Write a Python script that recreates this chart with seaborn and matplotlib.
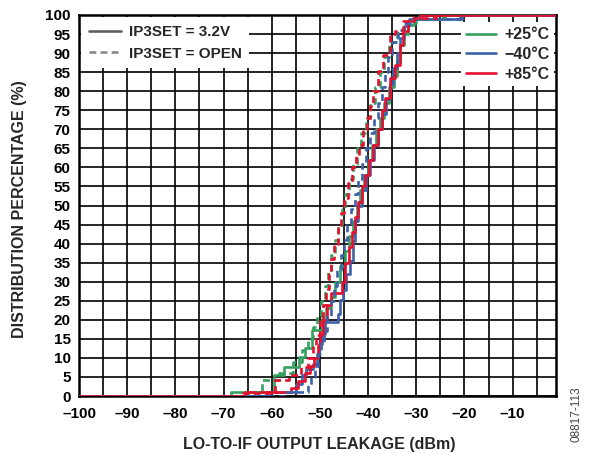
import numpy as np
import pandas as pd
import matplotlib
matplotlib.use("Agg")
import matplotlib.pyplot as plt
from matplotlib.lines import Line2D
import seaborn as sns

# ---- data ----
x_p25_v32 = [-100, -68.5, -59.6, -57.5, -54.4, -53.0, -51.6, -49.6, -48.8, -47.8, -46.8, -45.8, -44.8, -44.0, -43.2, -42.4, -41.6, -40.8, -40.0, -39.2, -38.4, -37.6, -36.6, -35.6, -34.6, -34.0, -33.3, -32.5, -31.8, -30.5, -24.5, -1]
y_p25_v32 = [0, 1, 5.5, 7.7, 10.3, 12.6, 17.3, 20, 23, 26, 30, 34, 38, 42, 46, 50, 54, 58, 62, 66, 70, 73, 77, 81, 84, 88, 92, 95, 97.5, 99, 100, 100]

x_m40_v32 = [-100, -61, -55, -53.8, -52.8, -51.4, -50.7, -50.1, -49.6, -49.0, -46.2, -45.9, -45.2, -44.5, -43.8, -43.2, -42.7, -42.0, -41.2, -40.4, -39.6, -38.8, -38.0, -37.2, -36.2, -35.5, -34.8, -34.0, -33.4, -32.5, -31.5, -20.5, -1]
y_m40_v32 = [0, 1, 3.2, 5.4, 7.2, 8.5, 11.1, 13.7, 16.3, 19.4, 21.6, 25.1, 27.7, 32, 35.5, 40.8, 46, 50, 54, 58, 62, 66, 70, 74, 78, 82, 86, 90, 94, 97, 99, 100, 100]

x_p85_v32 = [-100, -65.5, -56.0, -54.5, -53.0, -52.0, -51.2, -50.5, -50.0, -49.4, -48.5, -47.6, -45.5, -44.8, -44.0, -43.3, -42.7, -42.0, -41.3, -40.6, -39.9, -39.0, -38.0, -37.2, -36.5, -35.5, -34.4, -33.4, -32.7, -31.7, -30.6, -29.3, -1]
y_p85_v32 = [0, 1, 2, 4, 6, 8, 10, 13, 16, 20, 24, 27, 30, 35, 39, 43, 47, 51, 55, 58, 62, 66, 70, 75, 78.3, 83.5, 87, 92, 95.7, 98.4, 99.2, 100, 100]

x_p25_open = [-100, -63, -62, -58.5, -55.5, -53.8, -52.4, -51.4, -50.6, -49.8, -49.0, -48.3, -47.6, -46.9, -46.2, -45.5, -44.7, -43.9, -43.1, -42.3, -41.4, -40.5, -39.6, -38.6, -37.6, -36.6, -35.6, -34.0, -32.5, -30.0, -24, -1]
y_p25_open = [0, 1, 4.1, 6, 9, 12, 15, 18, 21, 25, 29, 33, 37, 41, 45, 49, 53, 57, 61, 65, 69, 73, 77, 81, 85, 89, 93, 96, 98, 99, 100, 100]

x_m40_open = [-100, -57, -52.5, -51.8, -51.0, -50.4, -49.8, -49.2, -48.5, -47.8, -47.1, -46.4, -45.7, -45.0, -44.3, -43.6, -42.8, -42.0, -41.2, -40.4, -39.6, -38.8, -38.0, -37.2, -36.5, -35.8, -35.0, -33.8, -32.5, -31.0, -21, -1]
y_m40_open = [0, 1, 3, 5, 8, 11, 14, 17, 21, 25, 29, 33, 37, 41, 45, 49, 53, 57, 61, 65, 69, 73, 77, 81, 85, 89, 93, 96, 98, 99, 100, 100]

x_p85_open = [-100, -66, -59.3, -56.5, -54.0, -52.5, -51.5, -50.8, -50.0, -49.4, -48.8, -48.2, -47.6, -47.0, -46.3, -45.6, -44.9, -44.2, -43.4, -42.6, -41.8, -41.0, -40.2, -39.6, -38.9, -37.9, -36.9, -35.5, -34.4, -32.7, -30.5, -26, -1]
y_p85_open = [0, 0.8, 4.1, 5.5, 7.5, 10, 13, 16, 20, 24, 28, 32, 36, 40, 44, 48, 52, 56, 60, 63, 66, 70, 73, 76, 80, 85.3, 89.6, 94.9, 95.7, 98.4, 99.3, 100, 100]

temps = ["+25°C", "\u221240°C", "+85°C"]
settings = ["IP3SET = 3.2V", "IP3SET = OPEN"]
x_ticks_labeled = [-100, -90, -80, -70, -60, -50, -40, -30, -20, -10]
y_ticks = list(range(0, 101, 5))

curves = [
    (temps[0], settings[0], x_p25_v32, y_p25_v32),
    (temps[1], settings[0], x_m40_v32, y_m40_v32),
    (temps[2], settings[0], x_p85_v32, y_p85_v32),
    (temps[0], settings[1], x_p25_open, y_p25_open),
    (temps[1], settings[1], x_m40_open, y_m40_open),
    (temps[2], settings[1], x_p85_open, y_p85_open),
]
frames = []
for t, s, xs, ys in curves:
    frames.append(pd.DataFrame({"x": xs, "y": ys, "temp": t, "setting": s, "curve": f"{t}|{s}"}))
df = pd.concat(frames, ignore_index=True)

# ---- style ----
sns.set_style("white")
plt.rcParams["font.family"] = ["Liberation Sans", "DejaVu Sans"]
plt.rcParams["font.weight"] = "bold"

colors = {temps[0]: "#35a060", temps[1]: "#3d62aa", temps[2]: "#e5102e"}
open_dash = (2.6, 1.6)

fig = plt.figure(figsize=(5.89, 4.54), dpi=100)
ax = fig.add_axes([79 / 589, 1 - 396 / 454, (556 - 79) / 589, (396 - 15) / 454])

for s in settings:
    sub = df[df["setting"] == s]
    sns.lineplot(data=sub, x="x", y="y", hue="temp", hue_order=temps, palette=colors,
                 units="curve", estimator=None, sort=False, legend=False,
                 drawstyle="steps-post", linewidth=1.9, ax=ax, zorder=3)
for line in ax.get_lines()[3:]:
    line.set_dashes(open_dash)

ax.set_xlim(-100, -1)
ax.set_ylim(0, 100)
xt = np.arange(-100, -1, 5)
ax.set_xticks(xt)
ax.set_xticklabels([("\u2013" + str(abs(v))) if v in x_ticks_labeled else "" for v in xt])
ax.set_yticks(y_ticks)
ax.set_yticklabels([str(v) for v in y_ticks])
ax.grid(True, color="black", linewidth=1.2)
ax.set_axisbelow(True)
for sp in ax.spines.values():
    sp.set_color("black")
    sp.set_linewidth(1.8)
ax.tick_params(axis="both", length=0, labelsize=11, colors="black")
ax.tick_params(axis="x", pad=8)
ax.tick_params(axis="y", pad=6)
for lab in ax.get_xticklabels() + ax.get_yticklabels():
    lab.set_fontweight("bold")

ax.set_xlabel("LO-TO-IF OUTPUT LEAKAGE (dBm)", fontsize=11.5, fontweight="bold")
ax.set_ylabel("DISTRIBUTION PERCENTAGE (%)", fontsize=11.5, fontweight="bold")
ax.xaxis.set_label_coords(0.503, -0.108)
ax.yaxis.set_label_coords(-0.11, 0.49)

# legends
h1 = [Line2D([], [], color="#606060", lw=1.9),
      Line2D([], [], color="#8a8a8a", lw=1.9, dashes=open_dash)]
leg1 = ax.legend(h1, settings, loc="upper left", bbox_to_anchor=(0.0, 1.0), frameon=True,
                 fancybox=False, framealpha=1, edgecolor="none", facecolor="white",
                 prop={"weight": "bold", "size": 11}, handlelength=2.1, handletextpad=0.5,
                 borderaxespad=0.15, borderpad=0.5, labelspacing=0.5)
ax.add_artist(leg1)
h2 = [Line2D([], [], color=colors[t], lw=1.9) for t in temps]
ax.legend(h2, temps, loc="upper right", bbox_to_anchor=(1.0, 0.985), frameon=True,
          fancybox=False, framealpha=1, edgecolor="none", facecolor="white",
          prop={"weight": "bold", "size": 11.5}, handlelength=1.9, handletextpad=0.5,
          borderaxespad=0.1, borderpad=0.3, labelspacing=0.3)

fig.text(577 / 589, 1 - 414 / 454, "08817-113", rotation=90, fontsize=8.5, color="#444444",
         fontweight="normal", ha="center", va="center")

fig.savefig("out.png", dpi=100)
